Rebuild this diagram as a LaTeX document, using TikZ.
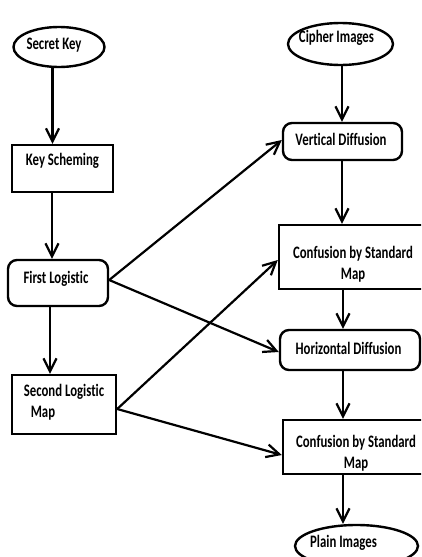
\documentclass[tikz,border=0pt]{standalone}
\usepackage{fontspec}
\setmainfont{Carlito}[FakeStretch=0.73, Ligatures=NoCommon]
\usetikzlibrary{shapes.geometric,arrows.meta}
\tikzset{
  shp/.style={draw=black, line width=2.4pt, inner sep=0pt},
  boxr/.style={shp, rectangle},
  boxround/.style={shp, rectangle, rounded corners=9pt},
  oval/.style={shp, ellipse},
  txt/.style={font=\fontsize{17.5}{21}\selectfont\bfseries, inner sep=0pt, align=center},
  arr/.style={line width=2.2pt, -{Straight Barb[length=13pt,width=13pt,line width=2.2pt]}}
}
\begin{document}
\begin{tikzpicture}[x=1pt,y=-1pt]
\useasboundingbox (0,0) rectangle (421,557);
\clip (0,0) rectangle (421,557);
% shapes
\node[oval, minimum width=91pt, minimum height=40pt] (sk) at (59,47) {};
\node[boxr, minimum width=101pt, minimum height=47pt] (ks) at (62.5,168.5) {};
\node[boxround, minimum width=100pt, minimum height=46pt] (fl) at (58,283) {};
\node[boxr, minimum width=104pt, minimum height=59pt] (sl) at (64,404.5) {};
\node[oval, minimum width=105pt, minimum height=42pt] (ci) at (340.5,44) {};
\node[boxround, minimum width=119pt, minimum height=37pt] (vd) at (342.5,141.5) {};
\node[boxr, minimum width=146pt, minimum height=64pt] (c1) at (352,257) {};
\node[boxround, minimum width=140pt, minimum height=40pt] (hd) at (350,350) {};
\node[boxr, minimum width=142pt, minimum height=54pt] (c2) at (354,447) {};
\node[oval, minimum width=123pt, minimum height=42pt] (pi) at (356.5,546) {};
% texts
\node[txt] (tsk) at (54,45) {Secret Key};
\node[txt] (tks) at (62.5,161) {Key Scheming};
\node[txt] (tfl) at (56,279) {First Logistic};
\node[txt, align=left] (tsl) at (64,402.5) {Second Logistic\\\hspace*{7pt}Map};
\node[txt] (tci) at (336.5,38) {Cipher Images};
\node[txt] (tvd) at (341,139) {Vertical Diffusion};
\node[txt] (tc1) at (353,264) {Confusion by Standard\\Map};
\node[txt] (thd) at (348.5,348) {Horizontal Diffusion};
\node[txt] (tc2) at (356,453) {Confusion by Standard\\Map};
\node[txt] (tpi) at (343.5,543) {Plain Images};
% vertical connectors
\draw[arr] ([xshift=-6.5pt]sk.south) -- ([xshift=-10pt]ks.north);
\draw[arr] ([xshift=-10.5pt]ks.south) -- ([xshift=-6pt]fl.north);
\draw[arr] ([xshift=-8pt]fl.south) -- ([xshift=-14pt]sl.north);
\draw[arr] ([xshift=1.5pt]ci.south) -- ([xshift=-0.5pt]vd.north);
\draw[arr] ([xshift=-0.5pt]vd.south) -- ([xshift=-10pt]c1.north);
\draw[arr] ([xshift=-9pt]c1.south) -- ([xshift=-7pt]hd.north);
\draw[arr] ([xshift=-7pt]hd.south) -- ([xshift=-11pt]c2.north);
\draw[arr] ([xshift=-11pt]c2.south) -- ([xshift=-13.5pt]pi.north);
% diagonal connectors
\draw[arr] ([yshift=3pt]fl.east) -- ([yshift=1.5pt]vd.west);
\draw[arr] ([yshift=3pt]fl.east) -- ([yshift=-2pt]hd.west);
\draw[arr] ([yshift=-4.5pt]sl.east) -- ([yshift=-3pt]c1.west);
\draw[arr] ([yshift=-4.5pt]sl.east) -- ([yshift=-8pt]c2.west);
\end{tikzpicture}
\end{document}
